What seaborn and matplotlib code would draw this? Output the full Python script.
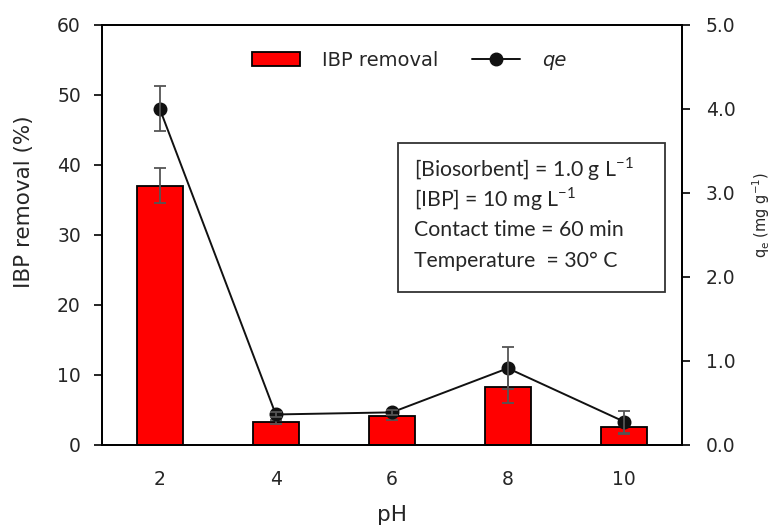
import matplotlib
matplotlib.use("Agg")
import matplotlib.pyplot as plt
import seaborn as sns
import pandas as pd
from matplotlib.patches import Patch, Rectangle
from matplotlib.lines import Line2D

# Data
ph_labels = ["2", "4", "6", "8", "10"]
removal = [37.0, 3.3, 4.1, 8.3, 2.6]
removal_err = [2.5, 0.3, 0.5, 2.4, 1.1]
qe = [4.0, 0.36, 0.385, 0.91, 0.275]
qe_err = [0.27, 0.03, 0.03, 0.25, 0.13]
conditions = ["[Biosorbent] = 1.0 g L$^{\\mathregular{-1}}$",
              "[IBP] = 10 mg L$^{\\mathregular{-1}}$",
              "Contact time = 60 min",
              "Temperature  = 30° C"]

sns.set_theme(style="white")
plt.rcParams["font.family"] = ["DejaVu Sans"]

df = pd.DataFrame({"pH": ph_labels, "removal": removal, "qe": qe})

fig = plt.figure(figsize=(7.72, 5.26), dpi=100)
L, R, T, B = 101.7, 682.0, 24.7, 444.7
ax = fig.add_axes([L / 772, 1 - B / 526, (R - L) / 772, (B - T) / 526])

sns.barplot(data=df, x="pH", y="removal", ax=ax, color="#ff0000",
            width=0.4, edgecolor="black", linewidth=1.3, saturation=1)
xs = list(range(len(ph_labels)))
ax.errorbar(xs, removal, yerr=removal_err, fmt="none", ecolor="#555555",
            elinewidth=1.3, capsize=4, capthick=1.3, zorder=3)

ax.set_xlim(-0.5, len(ph_labels) - 0.5)
ax.set_ylim(0, 60)
ax.set_yticks(range(0, 61, 10))
ax.set_xticks(xs)
ax.set_xticklabels(ph_labels)
ax.set_xticks([i + 0.5 for i in range(-1, len(ph_labels))], minor=True)
ax.tick_params(axis="x", which="major", length=0, pad=18, labelsize=13.5)
ax.tick_params(axis="x", which="minor", length=6, width=1.2, direction="out", color="black")
ax.tick_params(axis="y", length=6, width=1.2, direction="out", color="black",
               labelsize=13.5, left=True, pad=9)
ax.set_xlabel("pH", fontsize=15.5)
ax.set_ylabel("IBP removal (%)", fontsize=15.5)
ax.xaxis.set_label_coords(0.5, -0.143)
ax.yaxis.set_label_coords(-0.117, 0.578)
for s in ax.spines.values():
    s.set_color("black")
    s.set_linewidth(1.3)

ax2 = ax.twinx()
sns.pointplot(x=ph_labels, y=qe, ax=ax2, color="#111111", markers="o",
              linewidth=1.4, markersize=9, errorbar=None)
ax2.errorbar(xs, qe, yerr=qe_err, fmt="none", ecolor="#555555",
             elinewidth=1.3, capsize=4, capthick=1.3, zorder=4)
ax2.set_ylim(0, 5)
ax2.set_yticks([0, 1, 2, 3, 4, 5])
ax2.set_yticklabels(["0.0", "1.0", "2.0", "3.0", "4.0", "5.0"])
ax2.tick_params(axis="y", length=6, width=1.2, direction="out", color="black",
                labelsize=13.5, right=True, pad=11)
ax2.set_ylabel(r"q$_\mathregular{e}$ (mg g$^\mathregular{-1}$)", fontsize=10.5)
ax2.yaxis.set_label_coords(1.117, 0.547)
ax2.set_xlim(-0.5, len(ph_labels) - 0.5)
for s in ax2.spines.values():
    s.set_color("black")
    s.set_linewidth(1.3)

# legend
handles = [Patch(facecolor="#ff0000", edgecolor="black", linewidth=1.3),
           Line2D([0], [0], color="#111111", marker="o", markersize=9, linewidth=1.4)]
leg = ax.legend(handles, ["IBP removal", "qe"], loc="center left",
                bbox_to_anchor=((252 - L) / (R - L), (B - 60) / (B - T)),
                borderaxespad=0, borderpad=0, ncol=2, frameon=False,
                fontsize=14, handlelength=2.47, handleheight=0.7,
                columnspacing=1.75, handletextpad=1.13)
leg.get_texts()[1].set_style("italic")

# text box
ax.add_patch(Rectangle((0.511, 0.363), 0.46, 0.355, transform=ax.transAxes,
                       facecolor="white", edgecolor="#333333", linewidth=1.3, zorder=5))
for line, yb in zip(conditions, [0.639, 0.568, 0.497, 0.423]):
    ax.text(0.5375, yb, line, transform=ax.transAxes, fontsize=15.3,
            family=["Lato", "DejaVu Sans"], va="baseline", ha="left", zorder=6)

fig.savefig("out.png", dpi=100)
